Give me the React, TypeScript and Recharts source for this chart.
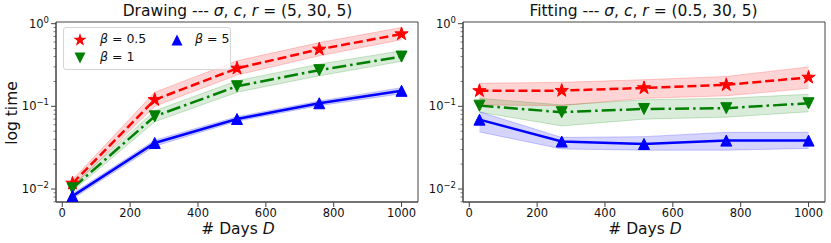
import { ComposedChart, Line, Area, XAxis, YAxis, ReferenceArea } from "recharts";

// # days D
const days = [30, 272.5, 515, 757.5, 1000];

// Drawing --- sigma, c, r = (5, 30, 5)
const drawB05 = [0.0117, 0.12, 0.288, 0.49, 0.75];
const drawB05Lo = [0.0106, 0.1, 0.239, 0.408, 0.64];
const drawB05Hi = [0.0129, 0.148, 0.356, 0.59, 0.9];
const drawB1 = [0.0102, 0.0757, 0.175, 0.274, 0.4];
const drawB1Lo = [0.0094, 0.065, 0.148, 0.234, 0.35];
const drawB1Hi = [0.0111, 0.0885, 0.204, 0.324, 0.47];
const drawB5 = [0.0082, 0.036, 0.0703, 0.109, 0.154];
const drawB5Lo = [0.0076, 0.033, 0.066, 0.102, 0.142];
const drawB5Hi = [0.0088, 0.039, 0.075, 0.116, 0.168];

// Fitting --- sigma, c, r = (0.5, 30, 5)
const fitB05 = [0.154, 0.155, 0.167, 0.182, 0.224];
const fitB05Lo = [0.104, 0.102, 0.125, 0.134, 0.165];
const fitB05Hi = [0.19, 0.195, 0.21, 0.23, 0.3];
const fitB1 = [0.102, 0.085, 0.093, 0.095, 0.109];
const fitB1Lo = [0.085, 0.058, 0.07, 0.074, 0.086];
const fitB1Hi = [0.125, 0.104, 0.12, 0.125, 0.14];
const fitB5 = [0.069, 0.0375, 0.035, 0.0385, 0.0385];
const fitB5Lo = [0.049, 0.0305, 0.0295, 0.0295, 0.031];
const fitB5Hi = [0.086, 0.042, 0.043, 0.0485, 0.0485];

const xTicks = [0, 200, 400, 600, 800, 1000];
const yTicks = [
  0.007, 0.008, 0.009,
  0.01, 0.02, 0.03, 0.04, 0.05, 0.06, 0.07, 0.08, 0.09,
  0.1, 0.2, 0.3, 0.4, 0.5, 0.6, 0.7, 0.8, 0.9, 1,
];

const X_DOM: [number, number] = [-18.5, 1048.5];
const Y_DOM: [number, number] = [0.00696, 1.048];
const FONT = "'DejaVu Sans', sans-serif";
const RED = "#ff0000";
const GREEN = "#008000";
const BLUE = "#0000ff";
const SPINE = "#444";

function rows(a: number[], aLo: number[], aHi: number[], b: number[], bLo: number[], bHi: number[], c: number[], cLo: number[], cHi: number[]) {
  return days.map((d, i) => ({
    d,
    r: a[i], rBand: [aLo[i], aHi[i]],
    g: b[i], gBand: [bLo[i], bHi[i]],
    b: c[i], bBand: [cLo[i], cHi[i]],
  }));
}

const drawData = rows(drawB05, drawB05Lo, drawB05Hi, drawB1, drawB1Lo, drawB1Hi, drawB5, drawB5Lo, drawB5Hi);
const fitData = rows(fitB05, fitB05Lo, fitB05Hi, fitB1, fitB1Lo, fitB1Hi, fitB5, fitB5Lo, fitB5Hi);

function starPath(cx: number, cy: number, R: number) {
  const r = R * 0.382;
  let p = "";
  for (let k = 0; k < 10; k++) {
    const rad = k % 2 === 0 ? R : r;
    const a = (Math.PI / 5) * k - Math.PI / 2;
    p += (k === 0 ? "M" : "L") + (cx + rad * Math.cos(a)).toFixed(2) + "," + (cy + rad * Math.sin(a)).toFixed(2);
  }
  return p + "Z";
}

function triPath(cx: number, cy: number, s: number, up: boolean) {
  const h = s / 2;
  return up
    ? `M${cx},${cy - h}L${cx - h},${cy + h}L${cx + h},${cy + h}Z`
    : `M${cx},${cy + h}L${cx - h},${cy - h}L${cx + h},${cy - h}Z`;
}

const Star = (p: any) => <path key={`s${p.index}`} d={starPath(p.cx, p.cy, 7)} fill={RED} stroke={RED} strokeWidth={1} />;
const TriDown = (p: any) => <path key={`d${p.index}`} d={triPath(p.cx, p.cy, 11, false)} fill={GREEN} stroke={GREEN} strokeWidth={1} />;
const TriUp = (p: any) => <path key={`u${p.index}`} d={triPath(p.cx, p.cy, 11, true)} fill={BLUE} stroke={BLUE} strokeWidth={1} />;

const LogTick = (props: any) => {
  const { x, y, payload } = props;
  const v = payload.value;
  const lg = Math.log10(v);
  const e = Math.round(lg);
  const major = Math.abs(lg - e) < 1e-6;
  return (
    <g>
      <line x1={x} x2={x - (major ? 5 : 2.5)} y1={y} y2={y} stroke={SPINE} strokeWidth={major ? 1 : 0.7} />
      {major && (
        <text x={x - 7} y={y} dy={4} textAnchor="end" fontSize={11.5} fontFamily={FONT} fill="#111">
          10<tspan dy={-5} fontSize={8.5}>{e === 0 ? "0" : "\u2212" + Math.abs(e)}</tspan>
        </text>
      )}
    </g>
  );
};

function Panel({ data, yWidth, right }: { data: any[]; yWidth: number; right: number }) {
  return (
    <ComposedChart width={yWidth + 362 + right} height={243} data={data} margin={{ top: 22, right, bottom: 0, left: 0 }}>
      <XAxis
        dataKey="d" type="number" domain={X_DOM} allowDataOverflow ticks={xTicks} height={41}
        tick={{ fontSize: 11.5, fontFamily: FONT, fill: "#111" }} tickSize={5} tickMargin={2}
        tickLine={{ stroke: SPINE }} axisLine={{ stroke: SPINE }}
      />
      <YAxis
        scale="log" type="number" domain={Y_DOM} allowDataOverflow ticks={yTicks} interval={0} width={yWidth}
        tick={<LogTick />} tickSize={0} tickMargin={0} tickLine={false} axisLine={{ stroke: SPINE }}
      />
      <Area dataKey="rBand" stroke={RED} strokeOpacity={0.2} fill={RED} fillOpacity={0.17} isAnimationActive={false} />
      <Area dataKey="gBand" stroke={GREEN} strokeOpacity={0.2} fill={GREEN} fillOpacity={0.15} isAnimationActive={false} />
      <Area dataKey="bBand" stroke={BLUE} strokeOpacity={0.2} fill={BLUE} fillOpacity={0.17} isAnimationActive={false} />
      <Line dataKey="r" stroke={RED} strokeWidth={2.5} strokeDasharray="9 4" dot={Star} isAnimationActive={false} />
      <Line dataKey="g" stroke={GREEN} strokeWidth={2.5} strokeDasharray="14 4 2.5 4" dot={TriDown} isAnimationActive={false} />
      <Line dataKey="b" stroke={BLUE} strokeWidth={2.5} dot={TriUp} isAnimationActive={false} />
      <ReferenceArea x1={X_DOM[0]} x2={X_DOM[1]} y1={Y_DOM[0]} y2={Y_DOM[1]} fill="none" stroke={SPINE} strokeWidth={1} ifOverflow="visible" />
    </ComposedChart>
  );
}

const it = { fontStyle: "italic" as const };
const txt = { position: "absolute" as const, fontFamily: FONT, fontSize: 15.5, color: "#111", whiteSpace: "nowrap" as const, textAlign: "center" as const, lineHeight: "16px" };

function Centered({ cx, top, children }: { cx: number; top: number; children: any }) {
  return <div style={{ ...txt, left: cx - 200, width: 400, top }}>{children}</div>;
}

function LegendBox() {
  const row = { position: "absolute" as const, fontSize: 12.5, fontFamily: FONT, color: "#111" };
  return (
    <div style={{ position: "absolute", left: 63, top: 27, width: 166, height: 41, border: "1px solid #d5d5d5", borderRadius: 3, background: "rgba(255,255,255,0.8)" }}>
      <svg width={166} height={41} style={{ position: "absolute", left: 0, top: 0 }}>
        <path d={starPath(16, 12, 7)} fill={RED} />
        <path d={triPath(16, 30, 11, false)} fill={GREEN} />
        <path d={triPath(113, 12, 11, true)} fill={BLUE} />
      </svg>
      <div style={{ ...row, left: 36, top: 3 }}><span style={it}>β</span> = 0.5</div>
      <div style={{ ...row, left: 36, top: 21 }}><span style={it}>β</span> = 1</div>
      <div style={{ ...row, left: 131, top: 3 }}><span style={it}>β</span> = 5</div>
    </div>
  );
}

export default function App() {
  return (
    <div style={{ position: "absolute", left: 0, top: 0, width: 831, height: 243, background: "#fff", overflow: "hidden" }}>
      <div style={{ position: "absolute", left: 0, top: 0 }}>
        <Panel data={drawData} yWidth={56} right={1} />
      </div>
      <div style={{ position: "absolute", left: 420, top: 0 }}>
        <Panel data={fitData} yWidth={43} right={7} />
      </div>
      <Centered cx={237.5} top={3}>
        Drawing --- <span style={it}>σ</span>, <span style={it}>c</span>, <span style={it}>r</span> = (5, 30, 5)
      </Centered>
      <Centered cx={643.5} top={3}>
        Fitting --- <span style={it}>σ</span>, <span style={it}>c</span>, <span style={it}>r</span> = (0.5, 30, 5)
      </Centered>
      <Centered cx={238} top={221}># Days <span style={it}>D</span></Centered>
      <Centered cx={645} top={221}># Days <span style={it}>D</span></Centered>
      <div style={{ ...txt, left: 12 - 50, width: 100, top: 113 - 8, transform: "rotate(-90deg)" }}>log time</div>
      <LegendBox />
    </div>
  );
}
